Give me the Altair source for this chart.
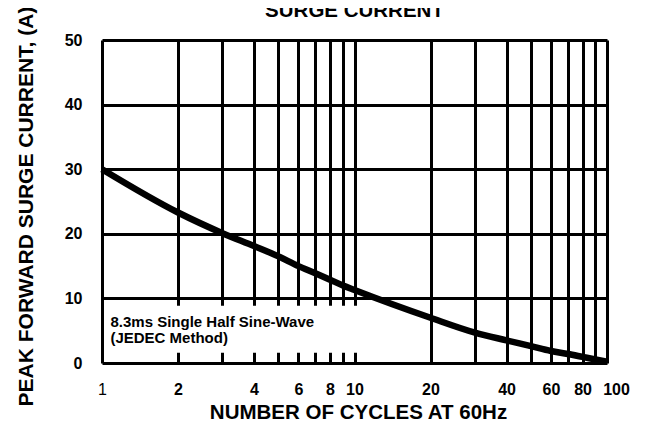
import altair as alt
import pandas as pd

# ---- data ----
cycles = [1, 2, 3, 4, 5, 6, 7, 8, 9, 10, 20, 30, 40, 50, 60, 70, 80, 90, 100]
current = [30.0, 23.3, 20.1, 18.1, 16.5, 15.0, 13.9, 12.9, 12.0, 11.3,
           7.0, 4.7, 3.5, 2.6, 1.85, 1.4, 0.95, 0.55, 0.2]

x_grid = [1, 2, 3, 4, 5, 6, 7, 8, 9, 10, 20, 30, 40, 50, 60, 70, 80, 90, 100]
x_labels = [1, 2, 4, 6, 8, 10, 20, 40, 60, 80, 100]
y_ticks = [0, 10, 20, 30, 40, 50]

title_text = "SURGE CURRENT"
x_title = "NUMBER OF CYCLES AT 60Hz"
y_title = "PEAK FORWARD SURGE CURRENT, (A)"
note_lines = ["8.3ms Single Half Sine-Wave", "(JEDEC Method)"]
note_pos = [1.08, 5.6]          # cycles, current
box_x = [1.03, 11.5]
box_y = [1.6, 8.85]

FONT = "Liberation Sans"

curve_df = pd.DataFrame({"cycles": cycles, "current": current})
box_df = pd.DataFrame({"cycles": [box_x[0]], "cycles2": [box_x[1]],
                       "current": [box_y[0]], "current2": [box_y[1]]})
note_df = pd.DataFrame({"cycles": [note_pos[0]], "current": [note_pos[1]],
                        "txt": [note_lines]})

xs = alt.Scale(type="log", domain=[1, 100], nice=False)
ys = alt.Scale(domain=[0, 50], nice=False, zero=True)

label_list = ",".join(str(v) for v in x_labels)
x_axis = alt.Axis(
    values=x_grid, grid=True, gridColor="black", gridWidth=3, gridOpacity=1,
    domain=False, ticks=False, tickSize=0,
    labelExpr=f"indexof([{label_list}], datum.value) >= 0 ? format(datum.value, 'd') : ''",
    labelFont=FONT, labelFontSize=16, labelColor="black",
    labelFontWeight={"condition": {"test": "datum.value == 1", "value": "normal"}, "value": "bold"},
    labelOffset={"condition": {"test": "datum.value == 100", "value": 9}, "value": 0},
    labelPadding=18, labelOverlap=False, labelFlush=False,
    title=x_title, titleFont=FONT, titleFontSize=20.5, titleFontWeight="bold",
    titleColor="black", titleX=256, titleY=55, titleBaseline="alphabetic",
)
y_axis = alt.Axis(
    values=y_ticks, grid=True, gridColor="black", gridWidth=3, gridOpacity=1,
    domain=False, ticks=False, tickSize=0,
    labelFont=FONT, labelFontSize=16, labelFontWeight="bold", labelColor="black",
    labelPadding=20, labelFlush=False,
    title=y_title, titleFont=FONT, titleFontSize=21, titleFontWeight="bold",
    titleColor="black", titleX=-70, titleY=166, titleBaseline="alphabetic",
    titleAlign="center", titleAngle=270,
)

X = alt.X("cycles:Q", scale=xs, axis=x_axis)
Y = alt.Y("current:Q", scale=ys, axis=y_axis)

box = alt.Chart(box_df).mark_rect(color="white", opacity=1).encode(
    x=X, x2="cycles2:Q", y=Y, y2="current2:Q")

note = alt.Chart(note_df).mark_text(
    align="left", baseline="alphabetic", font=FONT, fontSize=15,
    fontWeight="bold", color="black", lineHeight=16
).encode(x=X, y=Y, text="txt")

curve = alt.Chart(curve_df).mark_line(
    color="black", strokeWidth=6.5, interpolate="monotone", clip=False
).encode(x=X, y=Y)

top_title = alt.Chart(pd.DataFrame({"t": [title_text]})).mark_text(
    align="center", baseline="alphabetic", font=FONT, fontSize=20.5,
    fontWeight="bold", color="black"
).encode(x=alt.value(252.5), y=alt.value(-23), text="t")

chart = alt.layer(box, note, curve, top_title).properties(
    width=505, height=323,
    padding={"left": 94, "top": 32, "right": 37, "bottom": 61},
    autosize=alt.AutoSizeParams(type="none"),
).configure_view(stroke="black", strokeWidth=3.5).configure(background="white")

chart.save("out.html", embed_options={"renderer": "svg", "actions": False})
